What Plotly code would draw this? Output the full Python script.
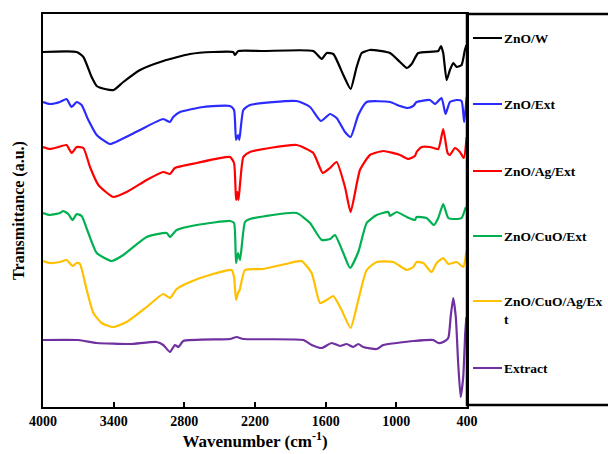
import plotly.graph_objects as go

# Wavenumbers (cm-1) and transmittance (a.u., offset stacked)
wn_znow = [4000, 3714, 3657, 3587, 3544, 3474, 3400, 3318, 3176, 2979, 2752, 2557, 2386, 2370, 2342,
           2130, 1705, 1634, 1591, 1535, 1450, 1388, 1337, 1294, 1224, 1054, 969, 912, 870, 814,
           644, 621, 602, 573, 545, 517, 488, 446, 418, 405]
t_znow = [355, 355, 350, 330, 321, 318, 317, 325, 337, 346, 353, 355, 355, 352, 356,
          356, 356, 348, 354, 353, 332, 318, 340, 354, 357, 354, 345, 339, 343, 354,
          356, 361, 354, 327, 337, 344, 340, 342, 357, 362]

wn_znoext = [4000, 3941, 3856, 3800, 3757, 3714, 3672, 3615, 3544, 3431, 3346, 3176, 2979, 2922, 2894,
             2837, 2639, 2412, 2378, 2361, 2344, 2333, 2299, 2243, 1847, 1733, 1640, 1563, 1507, 1436,
             1388, 1323, 1252, 1054, 969, 904, 856, 828, 715, 672, 616, 582, 545, 488, 446, 424, 403]
t_znoext = [305, 303, 305, 308, 300, 305, 302, 287, 272, 263, 267, 277, 288, 285, 290,
            295, 300, 301, 297, 267, 272, 267, 297, 302, 306, 300, 286, 293, 289, 275,
            270, 292, 305, 305, 301, 299, 301, 305, 307, 303, 309, 293, 305, 307, 306, 285, 310]

wn_znoagext = [4000, 3941, 3870, 3800, 3757, 3714, 3657, 3601, 3530, 3403, 3290, 3120, 2979, 2922, 2880,
               2695, 2412, 2378, 2361, 2350, 2340, 2299, 2243, 1847, 1705, 1625, 1563, 1507, 1436, 1388,
               1309, 1224, 1111, 969, 898, 842, 828, 785, 715, 644, 602, 565, 545, 503, 460, 427, 403]
t_znoagext = [260, 258, 260, 262, 254, 260, 259, 240, 222, 210, 215, 227, 235, 233, 239,
              244, 250, 244, 207, 215, 207, 250, 255, 262, 254, 234, 239, 245, 220, 195,
              237, 252, 256, 252, 248, 251, 255, 260, 260, 258, 278, 254, 252, 259, 255, 249, 270]

wn_znocuoext = [4000, 3941, 3856, 3828, 3785, 3749, 3714, 3672, 3615, 3544, 3417, 3318, 3120, 2950, 2922,
                2865, 2695, 2412, 2378, 2361, 2344, 2327, 2285, 2243, 1847, 1733, 1634, 1563, 1521, 1450,
                1393, 1323, 1252, 1167, 1068, 1054, 997, 912, 842, 828, 743, 681, 644, 602, 559, 503, 446, 410]
t_znocuoext = [194, 192, 194, 196, 193, 187, 193, 191, 174, 154, 146, 152, 170, 174, 170,
               177, 182, 186, 184, 144, 154, 147, 185, 188, 194, 184, 167, 168, 172, 154,
               139, 155, 184, 192, 195, 191, 195, 190, 187, 190, 189, 182, 189, 203, 189, 188, 189, 200]

wn_znocuoagext = [4000, 3941, 3856, 3800, 3749, 3714, 3686, 3629, 3572, 3502, 3403, 3290, 3120, 2979, 2922,
                  2865, 2752, 2557, 2399, 2378, 2361, 2344, 2330, 2285, 2130, 1903, 1804, 1719, 1648, 1591,
                  1535, 1465, 1388, 1323, 1252, 1167, 1026, 912, 856, 828, 771, 701, 658, 602, 559, 488, 432, 405]
t_znocuoagext = [146, 144, 145, 147, 141, 144, 143, 117, 94, 84, 80, 85, 100, 113, 109,
                 118, 125, 133, 137, 130, 107, 114, 117, 137, 138, 144, 146, 134, 104, 107,
                 111, 97, 79, 107, 137, 145, 145, 137, 140, 145, 144, 135, 144, 149, 143, 145, 140, 156]

wn_extract = [4000, 3700, 3544, 3261, 3035, 2979, 2922, 2880, 2850, 2809, 2412, 2356, 2299, 1790, 1719,
              1634, 1549, 1479, 1422, 1365, 1323, 1281, 1167, 1111, 997, 856, 687, 644, 602, 559,
              539, 517, 495, 475, 454, 432, 415, 405]
t_extract = [67, 67, 64, 63, 65, 62, 55, 62, 60, 66, 68, 70, 68, 67, 62,
             59, 64, 61, 63, 60, 63, 60, 58, 62, 64, 66, 67, 64, 65, 69,
             90, 109, 90, 44, 10, 30, 74, 90]

series_names = ["ZnO/W", "ZnO/Ext", "ZnO/Ag/Ext", "ZnO/CuO/Ext", "ZnO/CuO/Ag/Ext", "Extract"]
legend_labels = ["ZnO/W", "ZnO/Ext", "ZnO/Ag/Ext", "ZnO/CuO/Ext", "ZnO/CuO/Ag/Ex<br>t", "Extract"]
series_x = [wn_znow, wn_znoext, wn_znoagext, wn_znocuoext, wn_znocuoagext, wn_extract]
series_y = [t_znow, t_znoext, t_znoagext, t_znocuoext, t_znocuoagext, t_extract]
colors = ["#000000", "#2b2bff", "#ff0000", "#00b050", "#ffc000", "#7030a0"]

x_ticks = [4000, 3400, 2800, 2200, 1600, 1000, 400]

FONT = "Liberation Serif"

fig = go.Figure()
for name, xs, ys, c in zip(series_names, series_x, series_y, colors):
    fig.add_trace(go.Scatter(x=xs, y=ys, mode="lines", name=name,
                             line=dict(color=c, width=2.2, shape="spline", smoothing=0.5),
                             showlegend=False))

# Plot geometry (pixels) for the manual legend panel
W, H = 608, 454
ml, mr, mt, mb = 43, 141, 14, 47
pw, ph = W - ml - mr, H - mt - mb

def px(xp):
    return (xp - ml) / pw

def py(yp):
    return (H - mb - yp) / ph

legend_y = [38, 104, 171, 236, 301, 368]
shapes = [dict(type="rect", xref="paper", yref="paper", x0=1.0, x1=px(620), y0=py(405), y1=1.0,
               line=dict(color="black", width=2.5), fillcolor="rgba(0,0,0,0)", layer="above")]
annotations = []
for lab, c, yp in zip(legend_labels, colors, legend_y):
    shapes.append(dict(type="line", xref="paper", yref="paper", x0=px(473), x1=px(502),
                       y0=py(yp), y1=py(yp), line=dict(color=c, width=2)))
    annotations.append(dict(xref="paper", yref="paper", x=px(502), y=py(yp - 9), xanchor="left",
                            yanchor="top", text=f"<b>{lab}</b>", showarrow=False, align="left",
                            font=dict(family=FONT, size=13.5, color="black")))

fig.update_layout(
    width=W, height=H,
    margin=dict(l=ml, r=mr, t=mt, b=mb, autoexpand=False),
    paper_bgcolor="white", plot_bgcolor="white",
    shapes=shapes, annotations=annotations,
    xaxis=dict(range=[4000, 400], tickvals=x_ticks, ticktext=[f"<b>{v}</b>" for v in x_ticks],
               ticks="inside", ticklen=5, tickwidth=1.5, tickcolor="black", automargin=False,
               showline=True, linecolor="black", linewidth=2, mirror=True, showgrid=False,
               zeroline=False, tickfont=dict(family=FONT, size=14, color="black"),
               title=dict(text="<b>Wavenumber (cm<sup>-1</sup>)</b>", standoff=3,
                          font=dict(family=FONT, size=17, color="black"))),
    yaxis=dict(range=[0, 393], showticklabels=False, ticks="", showgrid=False, zeroline=False,
               showline=True, linecolor="black", linewidth=2, mirror=True, automargin=False,
               title=dict(text="<b>Transmittance (a.u.)</b>", standoff=12,
                          font=dict(family=FONT, size=16, color="black"))),
)

fig.write_html("out.html", config={"displayModeBar": False},
               post_script="document.body.style.margin='0px';")
